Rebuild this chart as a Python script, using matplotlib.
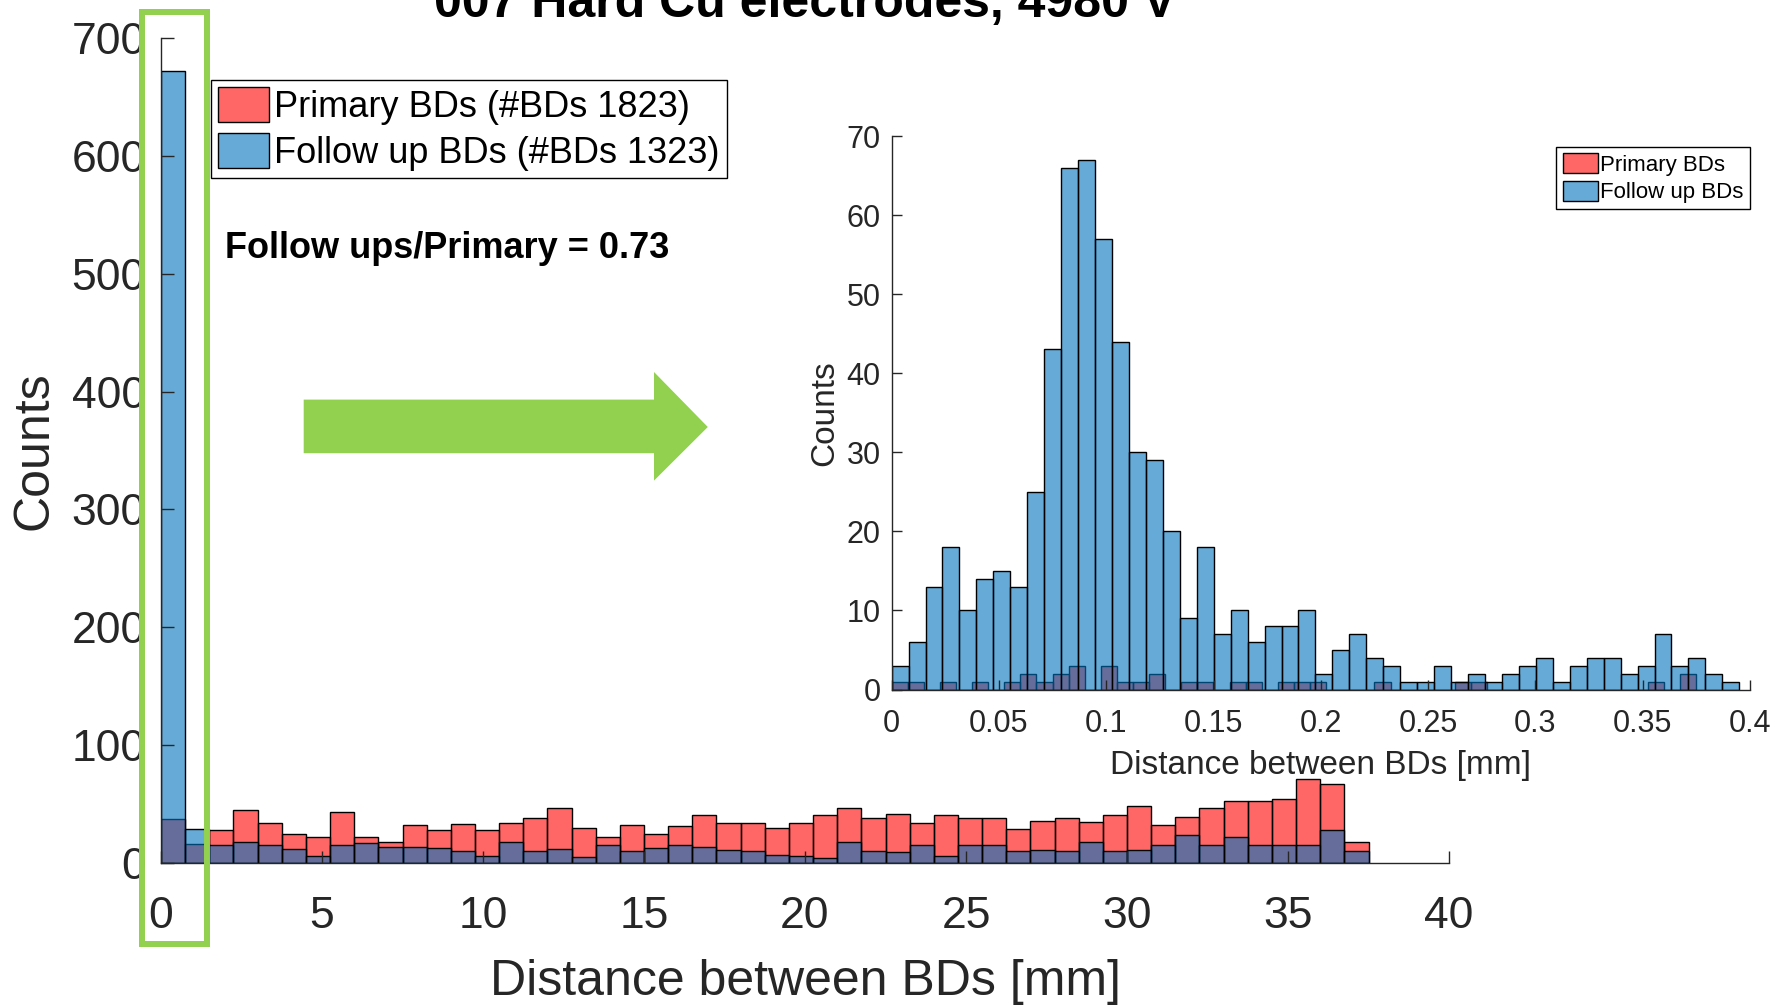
# %% Import modules
import numpy as np
import matplotlib
matplotlib.use('Agg')
import matplotlib.pyplot as plt
from matplotlib.patches import Rectangle, Polygon

plt.rcParams['font.family'] = ['Liberation Sans', 'DejaVu Sans']

# %% Histogram counts
# Full range, 0.75 mm bins starting at 0 mm
main_bin_width = 0.75
primary_counts = [37, 16, 28, 45, 34, 25, 22, 43, 22, 18,
                  32, 28, 33, 28, 34, 38, 47, 30, 22, 32,
                  25, 31, 41, 34, 34, 30, 34, 41, 47, 38,
                  42, 34, 41, 38, 38, 29, 36, 38, 35, 41,
                  48, 32, 39, 47, 53, 53, 54, 71, 67, 18]
followup_counts = [672, 29, 15, 18, 15, 12, 6, 15, 17, 14,
                   14, 13, 10, 6, 18, 10, 12, 5, 15, 10,
                   13, 15, 14, 11, 10, 7, 6, 4, 18, 10,
                   9, 15, 6, 15, 15, 10, 11, 10, 18, 10,
                   11, 15, 24, 15, 22, 15, 15, 15, 28, 10]

# Close-up of the first bin
inset_primary_bin_width = 0.0075
inset_primary_counts = [1, 1, 0, 1, 0, 1, 0, 1, 2, 1,
                        2, 3, 0, 3, 1, 1, 2, 0, 1, 1,
                        0, 1, 1, 0, 1, 1, 1, 0, 0, 0,
                        1, 0, 0, 0, 0, 1, 1, 0, 0, 0,
                        0, 0, 0, 0, 0, 0, 0, 1, 0, 2]
inset_followup_bin_width = 0.0079
inset_followup_counts = [3, 6, 13, 18, 10, 14, 15, 13, 25, 43,
                         66, 67, 57, 44, 30, 29, 20, 9, 18, 7,
                         10, 6, 8, 8, 10, 2, 5, 7, 4, 3,
                         1, 1, 3, 1, 2, 1, 2, 3, 4, 1,
                         3, 4, 4, 2, 3, 7, 3, 4, 2, 1]

n_primary = 1823
n_followup = 1323
ratio = 0.73

red_face = (1.0, 0.0, 0.0, 0.6)
blue_face = (0.0, 0.447, 0.741, 0.6)
green = '#92D050'
axis_grey = '#262626'


def draw_hist(ax, counts, width, face, lw):
    left = np.arange(len(counts)) * width
    return ax.bar(left, counts, width=width, align='edge', color=face,
                  edgecolor='black', linewidth=lw)


def style_axes(ax, tick_size, tick_len, pad_x, pad_y):
    for side in ['top', 'right']:
        ax.spines[side].set_visible(False)
    for side in ['left', 'bottom']:
        ax.spines[side].set_color(axis_grey)
        ax.spines[side].set_linewidth(1.0)
    ax.tick_params(direction='in', length=tick_len, width=1.0,
                   colors=axis_grey, labelsize=tick_size)
    ax.tick_params(axis='x', pad=pad_x)
    ax.tick_params(axis='y', pad=pad_y)
    ax.patch.set_visible(False)


# %% Figure
W, H = 1790, 1006
fig = plt.figure(figsize=(W / 100, H / 100), dpi=100)

# Main histogram
ax = fig.add_axes([161 / W, 1 - 863 / H, 1288 / W, 825 / H])
bars_p = draw_hist(ax, primary_counts, main_bin_width, red_face, 1.0)
bars_f = draw_hist(ax, followup_counts, main_bin_width, blue_face, 1.0)
ax.set_xlim(0, 40)
ax.set_ylim(0, 700)
ax.set_xticks(np.arange(0, 41, 5))
ax.set_yticks(np.arange(0, 701, 100))
style_axes(ax, 32, 9, 24, 11)
ax.set_xlabel('Distance between BDs [mm]', fontsize=36, color=axis_grey)
ax.set_ylabel('Counts', fontsize=36, color=axis_grey)
ax.xaxis.set_label_coords(0.5, -0.1165)
ax.yaxis.set_label_coords(-0.08, 0.5)

leg = ax.legend([bars_p, bars_f],
                [f'Primary BDs (#BDs {n_primary})',
                 f'Follow up BDs (#BDs {n_followup})'],
                loc='upper left', bbox_to_anchor=(211 / W, 1 - 80 / H),
                bbox_transform=fig.transFigure, fontsize=26,
                fancybox=False, edgecolor='black', framealpha=1,
                borderaxespad=0, borderpad=0.2, labelspacing=0.24,
                handlelength=1.4, handleheight=1.1, handletextpad=0.15)
leg.get_frame().set_linewidth(1.0)

# Close-up histogram
axi = fig.add_axes([891.6 / W, 1 - 689.5 / H, 858.4 / W, 553.5 / H])
draw_hist(axi, inset_primary_counts, inset_primary_bin_width, red_face, 1.0)
ins_f = draw_hist(axi, inset_followup_counts, inset_followup_bin_width,
                  blue_face, 1.0)
axi.set_xlim(0, 0.4)
axi.set_ylim(0, 70)
axi.set_xticks(np.arange(0, 0.401, 0.05))
axi.set_xticklabels(['0', '0.05', '0.1', '0.15', '0.2', '0.25', '0.3',
                     '0.35', '0.4'])
axi.set_yticks(np.arange(0, 71, 10))
style_axes(axi, 22, 7, 14, 8)
axi.set_xlabel('Distance between BDs [mm]', fontsize=24, color=axis_grey)
axi.set_ylabel('Counts', fontsize=24, color=axis_grey)
axi.xaxis.set_label_coords(0.5, -0.11)
axi.yaxis.set_label_coords(-0.06, 0.5)

ileg = axi.legend([bars_p, ins_f], ['Primary BDs', 'Follow up BDs'],
                  loc='upper right', bbox_to_anchor=(1750 / W, 1 - 147 / H),
                  bbox_transform=fig.transFigure, fontsize=16,
                  fancybox=False, edgecolor='black', framealpha=1,
                  borderaxespad=0, borderpad=0.28, labelspacing=0.22,
                  handlelength=1.6, handleheight=1.0, handletextpad=0.1)
ileg.get_frame().set_linewidth(1.0)

# Texts
fig.text(805 / W, 1 - 17 / H, '007 Hard Cu electrodes, 4980 V',
         ha='center', va='baseline', fontsize=36, fontweight='bold')
fig.text(225 / W, 1 - 248.5 / H, f'Follow ups/Primary = {ratio:.2f}',
         ha='left', va='center', fontsize=26, fontweight='bold')

# Green box round the first bin and arrow towards the close-up
fig.add_artist(Rectangle((142.5 / W, 1 - 943.5 / H), 65 / W, 931.5 / H,
                         transform=fig.transFigure, fill=False,
                         edgecolor=green, linewidth=4.3, zorder=10))
arrow_px = [(303.7, 399.6), (654, 399.6), (654, 372), (707.8, 427),
            (654, 480.6), (654, 453.2), (303.7, 453.2)]
fig.add_artist(Polygon([(x / W, 1 - y / H) for x, y in arrow_px],
                       closed=True, transform=fig.transFigure,
                       facecolor=green, edgecolor='none', zorder=10))

fig.savefig('out.png', dpi=100)
